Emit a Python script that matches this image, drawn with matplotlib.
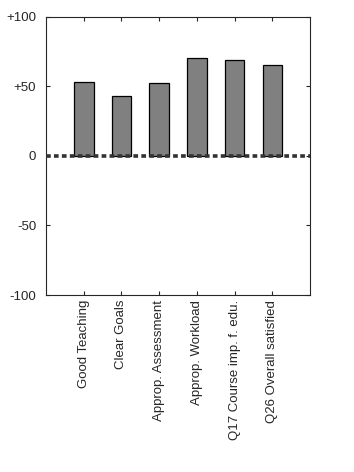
import numpy as np
import matplotlib
matplotlib.use("Agg")
import matplotlib.pyplot as plt

plt.rcParams['font.family'] = ['Liberation Sans', 'DejaVu Sans']

labels = ["Good Teaching", "Clear Goals", "Approp. Assessment",
          "Approp. Workload", "Q17 Course imp. f. edu.", "Q26 Overall satisfied"]
values = [53, 43, 52.5, 70.5, 69, 65.5]
yticks = [-100, -50, 0, 50, 100]
ytick_labels = ["-100", "-50", "0", "+50", "+100"]

fig = plt.figure(figsize=(3.54, 4.72), dpi=100)
ax = fig.add_axes([0.130, 0.375, 0.746, 0.589])

x = np.arange(1, len(labels) + 1)
ax.bar(x, values, width=0.52, color="#808080", edgecolor="black", linewidth=0.9, zorder=2)
ax.axhline(0, color="#333333", linewidth=2.6, linestyle=(0, (1.3, 0.9)), zorder=3)

ax.set_xlim(0, len(labels) + 1)
ax.set_ylim(-100, 100)
ax.set_xticks(x)
ax.set_xticklabels(labels, rotation=90, fontsize=9.5)
ax.set_yticks(yticks)
ax.set_yticklabels(ytick_labels, fontsize=9.5)
ax.tick_params(direction="in", top=True, right=True, length=3, width=0.8, colors="#262626")
ax.tick_params(axis="y", pad=7)
for s in ax.spines.values():
    s.set_linewidth(0.8)
    s.set_color("#262626")

fig.savefig("out.png", dpi=100)
